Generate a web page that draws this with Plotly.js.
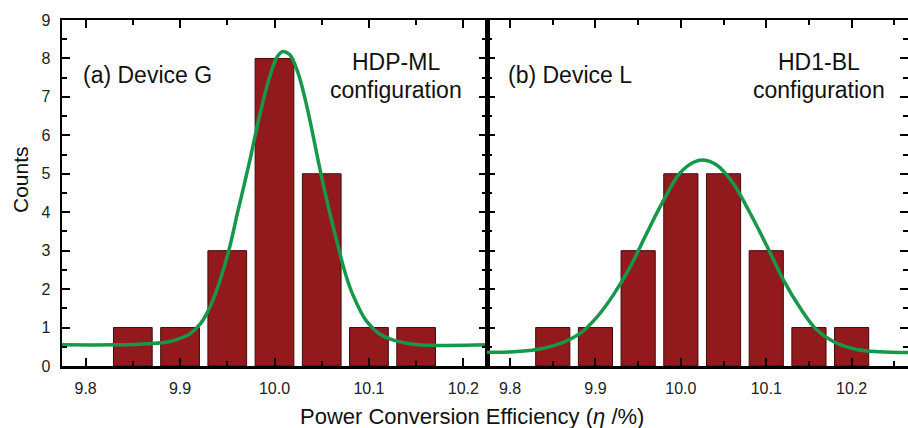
<!DOCTYPE html>
<html>
<head>
<meta charset="utf-8">
<script src="https://cdn.plot.ly/plotly-3.0.1.min.js"></script>
<style>html,body{margin:0;padding:0;background:#fff;}#chart{width:908px;height:428px;}</style>
</head>
<body>
<div id="chart"></div>
<script>
// ---- Data ----
const binsG = [9.85, 9.90, 9.95, 10.00, 10.05, 10.10, 10.15];
const countsG = [1, 1, 3, 8, 5, 1, 1];
const binsL = [9.85, 9.90, 9.95, 10.00, 10.05, 10.10, 10.15, 10.20];
const countsL = [1, 1, 3, 5, 5, 3, 1, 1];

// Fitted curves
const fitGx = [9.775, 9.83, 9.868, 9.888, 9.900, 9.910, 9.921, 9.928, 9.937, 9.951, 9.961, 9.974, 9.984, 9.995, 10.003, 10.009, 10.016, 10.025, 10.035, 10.049, 10.062, 10.076, 10.083, 10.097, 10.111, 10.125, 10.150, 10.225];
const fitGy = [0.55, 0.55, 0.58, 0.63, 0.72, 0.83, 1.08, 1.35, 1.85, 2.95, 4.00, 5.36, 6.49, 7.53, 8.05, 8.18, 8.10, 7.62, 6.67, 5.02, 3.63, 2.33, 1.85, 1.18, 0.84, 0.68, 0.56, 0.55];
const fitLx = [9.773, 9.804, 9.831, 9.859, 9.882, 9.902, 9.921, 9.941, 9.960, 9.980, 9.999, 10.015, 10.026, 10.042, 10.061, 10.081, 10.101, 10.120, 10.140, 10.159, 10.179, 10.206, 10.233, 10.266];
const fitLy = [0.36, 0.37, 0.43, 0.59, 0.85, 1.28, 1.85, 2.59, 3.45, 4.32, 5.02, 5.30, 5.36, 5.23, 4.76, 3.98, 3.11, 2.24, 1.50, 0.94, 0.63, 0.43, 0.37, 0.35];

const xTicks = [9.8, 9.9, 10.0, 10.1, 10.2];
const xTickText = ['9.8', '9.9', '10.0', '10.1', '10.2'];
const yTicks = [0, 1, 2, 3, 4, 5, 6, 7, 8, 9];

// ---- Styles ----
const barColor = '#921a1d';
const barLine = '#3a0c0c';
const fitColor = '#16984a';
const fontFam = 'Arial, "Liberation Sans", Helvetica, sans-serif';

const traces = [
  {type: 'bar', x: binsG, y: countsG, width: 0.041, xaxis: 'x', yaxis: 'y',
   marker: {color: barColor, line: {color: barLine, width: 1}}, hoverinfo: 'x+y'},
  {type: 'scatter', mode: 'lines', x: fitGx, y: fitGy, xaxis: 'x', yaxis: 'y',
   line: {color: fitColor, width: 3.5, shape: 'spline', smoothing: 1}},
  {type: 'bar', x: binsL, y: countsL, width: 0.040, xaxis: 'x2', yaxis: 'y2',
   marker: {color: barColor, line: {color: barLine, width: 1}}, hoverinfo: 'x+y'},
  {type: 'scatter', mode: 'lines', x: fitLx, y: fitLy, xaxis: 'x2', yaxis: 'y2',
   line: {color: fitColor, width: 3.5, shape: 'spline', smoothing: 1}}
];

const W = 908, H = 428, L = 62, R = 908, T = 20, B = 366;
const px = v => (v - L) / (R - L);
const py = v => (B - v) / (B - T);
const split = px(487);

const xCommon = {
  showgrid: false, zeroline: false, showline: true, linecolor: '#000', linewidth: 2.5,
  mirror: 'ticks', ticks: 'inside', ticklen: 8, tickwidth: 2, tickcolor: '#000',
  tickvals: xTicks, ticktext: xTickText,
  tickfont: {family: fontFam, size: 16, color: '#222'},
  minor: {dtick: 0.05, tick0: 9.75, ticks: 'inside', ticklen: 5, tickwidth: 2, tickcolor: '#000'},
  ticklabelstandoff: 6, fixedrange: true
};
const yCommon = {
  showgrid: false, zeroline: false, showline: true, linecolor: '#000', linewidth: 2.5,
  mirror: 'ticks', ticks: 'inside', ticklen: 8, tickwidth: 2, tickcolor: '#000',
  range: [0, 9], tickvals: yTicks,
  tickfont: {family: fontFam, size: 16, color: '#222'},
  minor: {dtick: 0.5, tick0: 0, ticks: 'inside', ticklen: 5, tickwidth: 2, tickcolor: '#000'},
  ticklabelstandoff: 6, fixedrange: true
};

const annFont = {family: fontFam, size: 23, color: '#111'};
const layout = {
  width: W, height: H,
  margin: {l: L, r: W - R, t: T, b: H - B, pad: 0},
  paper_bgcolor: '#fff', plot_bgcolor: '#fff',
  showlegend: false, bargap: 0,
  xaxis: Object.assign({}, xCommon, {domain: [0, split], range: [9.775, 10.225], anchor: 'y'}),
  yaxis: Object.assign({}, yCommon, {domain: [0, 1], anchor: 'x'}),
  xaxis2: Object.assign({}, xCommon, {domain: [split, 1], range: [9.773, 10.266], anchor: 'y2'}),
  yaxis2: Object.assign({}, yCommon, {domain: [0, 1], anchor: 'x2', showticklabels: false}),
  annotations: [
    {text: '(a) Device G', xref: 'paper', yref: 'paper', x: px(81), y: py(75), xanchor: 'left', yanchor: 'middle', showarrow: false, font: annFont},
    {text: 'HDP-ML', xref: 'paper', yref: 'paper', x: px(396), y: py(62), xanchor: 'center', yanchor: 'middle', showarrow: false, font: annFont},
    {text: 'configuration', xref: 'paper', yref: 'paper', x: px(396), y: py(90), xanchor: 'center', yanchor: 'middle', showarrow: false, font: annFont},
    {text: '(b) Device L', xref: 'paper', yref: 'paper', x: px(506), y: py(75), xanchor: 'left', yanchor: 'middle', showarrow: false, font: annFont},
    {text: 'HD1-BL', xref: 'paper', yref: 'paper', x: px(819), y: py(62), xanchor: 'center', yanchor: 'middle', showarrow: false, font: annFont},
    {text: 'configuration', xref: 'paper', yref: 'paper', x: px(819), y: py(90), xanchor: 'center', yanchor: 'middle', showarrow: false, font: annFont},
    {text: 'Counts', xref: 'paper', yref: 'paper', x: px(20), y: py(180), xanchor: 'center', yanchor: 'middle', textangle: -90, showarrow: false, font: {family: fontFam, size: 21, color: '#111'}},
    {text: 'Power Conversion Efficiency (<i>η</i> /%)', xref: 'paper', yref: 'paper', x: px(472), y: py(416), xanchor: 'center', yanchor: 'middle', showarrow: false, font: {family: fontFam, size: 22, color: '#111'}}
  ]
};

Plotly.newPlot('chart', traces, layout, {displayModeBar: false, staticPlot: true});
</script>
</body>
</html>
